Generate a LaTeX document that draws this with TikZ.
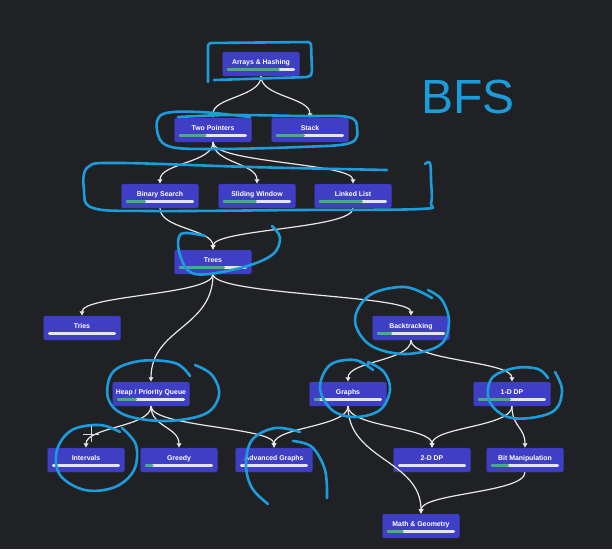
\documentclass[tikz,border=0pt]{standalone}
\usepackage{fontspec}
\setmainfont{Liberation Sans}
\usetikzlibrary{calc,arrows.meta}
\definecolor{bgcol}{RGB}{32,33,36}
\definecolor{boxcol}{RGB}{62,63,196}
\definecolor{barcol}{RGB}{228,228,236}
\definecolor{donecol}{RGB}{72,172,140}
\definecolor{inkcol}{RGB}{28,156,218}
\definecolor{linecol}{RGB}{232,232,232}
\newcommand{\progbar}[2]{%
  \draw[bar, barcol] ($(#1.south west)+(6,-6.5)$) -- ($(#1.south east)+(-6,-6.5)$);
  \ifdim#2pt>0pt
    \draw[bar, donecol] ($(#1.south west)+(6,-6.5)$) -- ++({#2*68-3},0);
  \fi}
\begin{document}
\begin{tikzpicture}[x=1pt, y=-1pt, node distance=66pt,
  topic/.style={draw=boxcol!85!black, fill=boxcol, rounded corners=2pt, minimum width=77pt, minimum height=24pt, inner sep=0pt, text=white, font=\fontsize{6.9}{8}\selectfont\bfseries, text height=5pt, text depth=4.5pt},
  bar/.style={line width=3pt, line cap=round},
  edge/.style={draw=linecol, line width=1.2pt, -{Latex[length=4.5pt,width=5.5pt]}, to path={.. controls ($(\tikztostart)!.5!(\tikztostart |- \tikztotarget)$) and ($(\tikztotarget)!.5!(\tikztotarget |- \tikztostart)$) .. (\tikztotarget)}},
  ink/.style={draw=inkcol, line width=2.6pt, line cap=round, line join=round}]
  \fill[bgcol] (0,0) rectangle (612,549);
  \useasboundingbox (0,0) rectangle (612,549);

  \node[topic] (ah) at (261,64) {Arrays \& Hashing};
  \node[topic] (tp) [below of = ah, xshift=-48pt] {Two Pointers};
  \node[topic] (st) [below of = ah, xshift=49pt] {Stack};
  \node[topic] (bs) [below of = tp, xshift=-53pt] {Binary Search};
  \node[topic] (sw) [below of = tp, xshift=44pt] {Sliding Window};
  \node[topic] (ll) [below of = tp, xshift=140pt] {Linked List};
  \node[topic] (tr) [below of = bs, xshift=53pt] {Trees};
  \node[topic] (tri) [below of = tr, xshift=-131pt] {Tries};
  \node[topic] (bt) [below of = tr, xshift=198pt] {Backtracking};
  \node[topic] (hp) [below of = tri, xshift=69pt] {Heap / Priority Queue};
  \node[topic] (gr) [below of = bt, xshift=-63pt] {Graphs};
  \node[topic] (dp1) [below of = bt, xshift=101pt] {1-D DP};
  \node[topic] (iv) [below of = hp, xshift=-65pt] {Intervals};
  \node[topic] (gd) [below of = hp, xshift=28pt] {Greedy};
  \node[topic] (ag) [below of = hp, xshift=123pt] {Advanced Graphs};
  \node[topic] (dp2) [below of = gr, xshift=84pt] {2-D DP};
  \node[topic] (bm) [below of = dp1, xshift=13pt] {Bit Manipulation};
  \node[topic] (mg) [below of = dp2, xshift=-11pt] {Math \& Geometry};

  \draw[edge] (ah.south) to (tp.north);
  \draw[edge] (ah.south) to (st.north);
  \draw[edge] (tp.south) to (bs.north);
  \draw[edge] (tp.south) to (sw.north);
  \draw[edge] (tp.south) to (ll.north);
  \draw[edge] (bs.south) to (tr.north);
  \draw[edge] (ll.south) to (tr.north);
  \draw[edge] (tr.south) to (tri.north);
  \draw[edge] (tr.south) to (hp.north);
  \draw[edge] (tr.south) to (bt.north);
  \draw[edge] (bt.south) to (gr.north);
  \draw[edge] (bt.south) to (dp1.north);
  \draw[edge] (hp.south) to (iv.north);
  \draw[edge] (hp.south) to (gd.north);
  \draw[edge] (hp.south) to (ag.north);
  \draw[edge] (gr.south) to (ag.north);
  \draw[edge] (gr.south) to (dp2.north);
  \draw[edge] (gr.south) to (mg.north);
  \draw[edge] (dp1.south) to (dp2.north);
  \draw[edge] (dp1.south) to (bm.north);
  \draw[edge] (bm.south) to (mg.north);

  \progbar{ah}{0.78}
  \progbar{tp}{0.41}
  \progbar{st}{0.43}
  \progbar{bs}{0.30}
  \progbar{sw}{0.50}
  \progbar{ll}{0.65}
  \progbar{tr}{0.68}
  \progbar{tri}{0}
  \progbar{bt}{0.23}
  \progbar{hp}{0.30}
  \progbar{gr}{0.10}
  \progbar{dp1}{0.49}
  \progbar{iv}{0}
  \progbar{gd}{0.13}
  \progbar{ag}{0}
  \progbar{dp2}{0}
  \progbar{bm}{0.27}
  \progbar{mg}{0.25}

  \draw[ink, rounded corners=3pt] (214,80) -- (309,77) -- (312,74) -- (311,42) -- (208,43) -- (208,82);
  \draw[ink] plot[smooth, tension=0.6] coordinates {(250,117) (200,112) (163,114) (157,130) (168,146) (210,149) (300,147) (350,143) (357,128) (348,117) (300,116) (230,115) (178,117)};
  \draw[ink] plot[smooth, tension=0.6] coordinates {(387,170) (250,167) (120,163) (88,167) (84,190) (93,208) (150,211) (300,210) (420,209) (431,203) (431,180) (430,163) (425,164)};
  \draw[ink] plot[smooth, tension=0.6] coordinates {(205,236) (181,234) (180,255) (195,274) (240,268) (272,255) (280,238) (272,226)};
  \draw[ink] plot[smooth, tension=0.6] coordinates {(432,298) (405,287) (370,295) (355,320) (370,345) (405,354) (440,345) (449,322) (442,300) (428,290)};
  \draw[ink] plot[smooth, tension=0.6] coordinates {(190,376) (175,363) (140,361) (113,372) (108,398) (125,415) (165,421) (205,414) (219,395) (212,375) (195,365)};
  \draw[ink] plot[smooth, tension=0.6] coordinates {(373,370) (355,360) (330,365) (320,388) (332,410) (355,417) (380,410) (390,390) (384,372) (368,362)};
  \draw[ink] plot[smooth, tension=0.6] coordinates {(548,378) (538,369) (515,368) (492,378) (489,400) (505,416) (530,418) (555,410) (562,390) (555,372)};
  \draw[ink] plot[smooth, tension=0.6] coordinates {(120,432) (100,425) (72,430) (57,450) (60,475) (85,490) (115,487) (134,470) (136,445) (122,428)};
  \draw[ink] plot[smooth, tension=0.6] coordinates {(300,432) (275,428) (252,440) (246,465) (252,488) (268,504)};
  \draw[ink] plot[smooth, tension=0.6] coordinates {(293,441) (312,447) (325,470) (327,498)};
  \draw[white!85!black, line width=0.8pt] (83,434) -- (99,434) (91,426) -- (91,442);

  \node[text=inkcol, font=\fontsize{48}{48}\selectfont] (bfs) at (468,97) {BFS};
\end{tikzpicture}
\end{document}
